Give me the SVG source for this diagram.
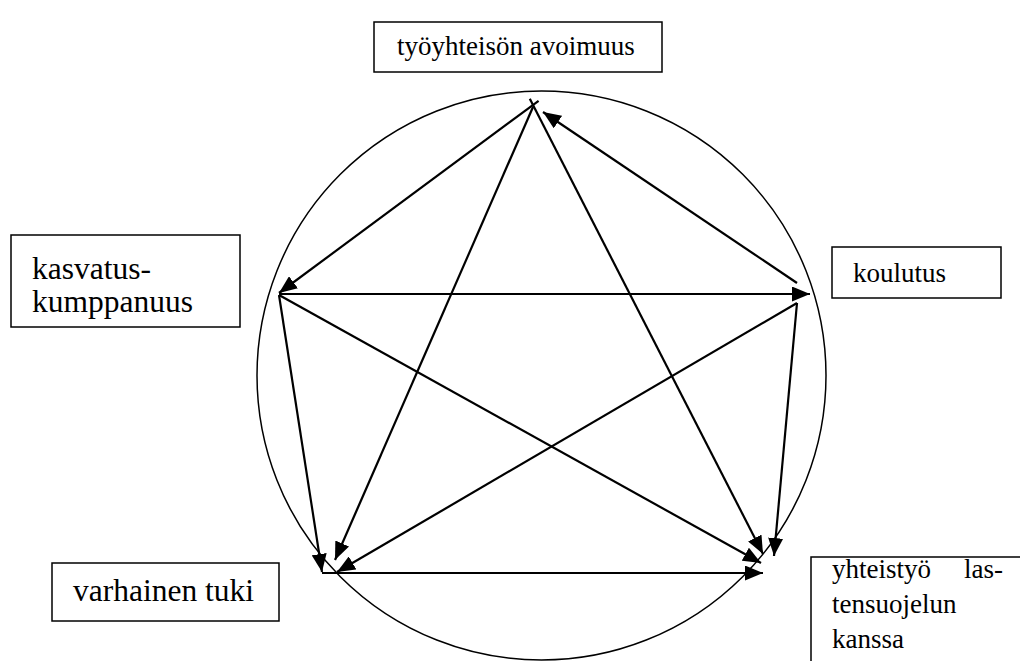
<svg xmlns="http://www.w3.org/2000/svg" width="1020" height="661" viewBox="0 0 1020 661">
<style>
.box{fill:#fff;stroke:#000;stroke-width:1.5}
.lbl{font-size:27px;fill:#000}
.big{font-size:31.5px}
.edge{stroke:#000;stroke-width:2.2;fill:none;marker-end:url(#ah)}
</style>
<defs>
<marker id="ah" markerUnits="userSpaceOnUse" markerWidth="19" markerHeight="15" refX="18" refY="7.5" orient="auto">
<path d="M0,0 L18,7.5 L0,15 z" fill="#000"/>
</marker>
</defs>
<rect width="1020" height="661" fill="#fff"/>
<circle cx="541.5" cy="375.5" r="284.5" fill="none" stroke="#000" stroke-width="1.5"/>
<g id="connectors">
<line class="edge" x1="538.6" y1="100.8" x2="279" y2="293"/>
<line class="edge" x1="797" y1="283" x2="543" y2="112"/>
<line class="edge" x1="279" y1="294" x2="810" y2="294"/>
<line class="edge" x1="529.8" y1="98.8" x2="763" y2="554"/>
<line class="edge" x1="797" y1="303" x2="774" y2="556"/>
<line class="edge" x1="279" y1="295" x2="322" y2="572"/>
<line class="edge" x1="533" y1="107" x2="335" y2="560"/>
<line class="edge" x1="797" y1="303" x2="337" y2="572"/>
<line class="edge" x1="279" y1="295" x2="761" y2="563"/>
<line class="edge" x1="322" y1="573" x2="763" y2="573"/>
</g>
<g font-family="'Liberation Serif', 'Times New Roman', 'DejaVu Serif', serif">
<g id="node-avoimuus">
<rect class="box" x="374" y="22" width="288" height="50"/>
<text class="lbl" x="397" y="55">työyhteisön avoimuus</text>
</g>
<g id="node-kasvatus">
<rect class="box" x="11" y="235" width="229" height="92"/>
<text class="lbl big" x="32" y="279">kasvatus-</text>
<text class="lbl big" x="32" y="312">kumppanuus</text>
</g>
<g id="node-koulutus">
<rect class="box" x="832" y="247" width="169" height="51"/>
<text class="lbl" x="853" y="282">koulutus</text>
</g>
<g id="node-varhainen">
<rect class="box" x="52" y="563" width="227" height="58"/>
<text class="lbl big" x="73" y="601">varhainen tuki</text>
</g>
<g id="node-yhteistyo">
<rect class="box" x="811" y="557" width="230" height="120"/>
<text class="lbl" x="832" y="578">yhteistyö</text>
<text class="lbl" x="1003" y="578" text-anchor="end">las-</text>
<text class="lbl" x="832" y="613">tensuojelun</text>
<text class="lbl" x="832" y="648">kanssa</text>
</g>
</g>
</svg>
